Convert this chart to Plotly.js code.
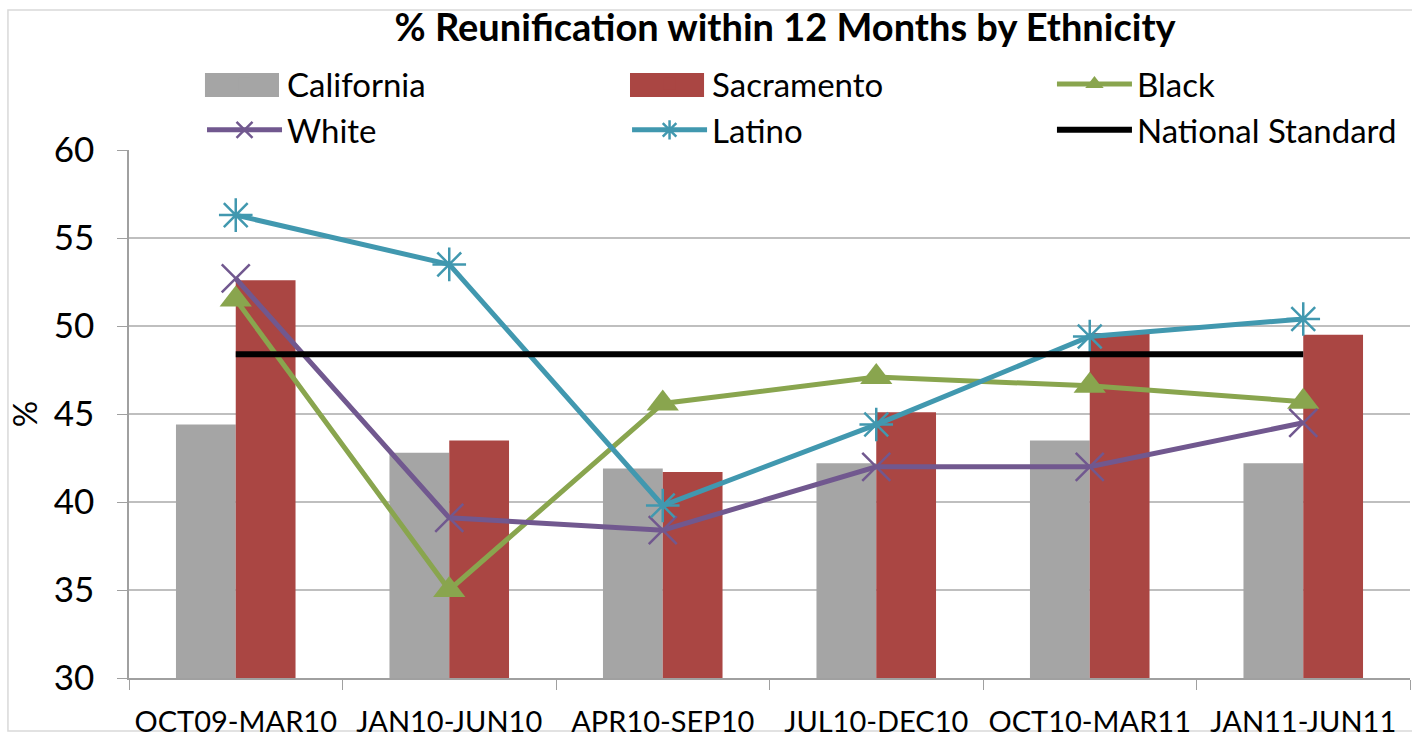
<!DOCTYPE html>
<html>
<head>
<meta charset="utf-8">
<script src="https://cdn.plot.ly/plotly-3.0.1.min.js"></script>
<style>
  html, body { margin: 0; padding: 0; background: #fff; }
  #chart { width: 1412px; height: 733px; }
</style>
</head>
<body>
<div id="chart"></div>
<script>
// Periods along the x axis
const periods = ['OCT09-MAR10', 'JAN10-JUN10', 'APR10-SEP10', 'JUL10-DEC10', 'OCT10-MAR11', 'JAN11-JUN11'];

// % reunified within 12 months
const california = [44.4, 42.8, 41.9, 42.2, 43.5, 42.2];
const sacramento = [52.6, 43.5, 41.7, 45.1, 49.6, 49.5];
const black      = [51.5, 35.0, 45.6, 47.1, 46.6, 45.7];
const white      = [52.7, 39.1, 38.4, 42.0, 42.0, 44.5];
const latino     = [56.3, 53.5, 39.8, 44.4, 49.4, 50.4];
const nationalStandard = [48.4, 48.4, 48.4, 48.4, 48.4, 48.4];

const FONT = 'Lato, "Open Sans", sans-serif';
const GREY = '#A5A5A5';
const RED = '#AA4643';

function lineTrace(name, y, color, symbol, size, legend) {
    return {
        type: 'scatter',
        mode: 'lines+markers',
        name: name,
        legend: legend,
        legendgroup: name,
        x: periods,
        y: y,
        line: { color: color, width: 5 },
        marker: {
            symbol: symbol,
            size: size,
            color: color,
            line: { color: color, width: symbol.endsWith('open') ? 2.5 : 0 }
        },
        cliponaxis: false
    };
}

const traces = [
    { type: 'bar', name: 'California', legend: 'legend', legendgroup: 'California',
      x: periods, y: california, marker: { color: GREY } },
    { type: 'bar', name: 'Sacramento', legend: 'legend2', legendgroup: 'Sacramento',
      x: periods, y: sacramento, marker: { color: RED } },
    lineTrace('Black', black, '#89A54E', 'triangle-up', 28, 'legend3'),
    lineTrace('White', white, '#71588F', 'x-thin-open', 28, 'legend'),
    lineTrace('Latino', latino, '#4198AF', 'asterisk-open', 28, 'legend2'),
    {
        type: 'scatter', mode: 'lines', name: 'National Standard',
        legend: 'legend3', legendgroup: 'National Standard',
        x: periods, y: nationalStandard,
        line: { color: '#000000', width: 6 }
    }
];

function legendBox(x) {
    return {
        orientation: 'v',
        x: x, xanchor: 'left',
        y: 1.178, yanchor: 'top',
        font: { size: 33, family: FONT, color: '#000000' },
        itemwidth: 75,
        tracegroupgap: 0,
        traceorder: 'normal',
        bgcolor: 'rgba(0,0,0,0)'
    };
}

// wide swatches behind the bar legend keys, as in the reference
function swatch(x0, x1, color) {
    return {
        type: 'rect', xref: 'paper', yref: 'paper',
        x0: x0, x1: x1, y0: 1.1004, y1: 1.1458,
        fillcolor: color, line: { width: 0 }, layer: 'above'
    };
}

const layout = {
    width: 1412,
    height: 733,
    paper_bgcolor: '#ffffff',
    plot_bgcolor: '#ffffff',
    font: { family: FONT, color: '#000000' },
    title: {
        text: '<b>% Reunification within 12 Months by Ethnicity</b>',
        font: { size: 38, family: FONT },
        x: 0.556, xanchor: 'center',
        y: 0.962, yanchor: 'middle'
    },
    margin: { l: 129, r: 2, t: 150, b: 55 },
    barmode: 'group',
    bargap: 0.44,
    bargroupgap: 0,
    showlegend: true,
    legend: legendBox(0.057),
    legend2: legendBox(0.3888),
    legend3: legendBox(0.7205),
    shapes: [
        { type: 'rect', xref: 'paper', yref: 'paper',
          x0: -0.0945, x1: 1.02, y0: -0.1004, y1: 1.265,
          line: { color: '#D9D9D9', width: 1.5 }, layer: 'below' },
        swatch(0.0593, 0.1171, GREY),
        swatch(0.3911, 0.4489, RED)
    ],
    xaxis: {
        type: 'category',
        showgrid: false,
        showline: true,
        linecolor: '#A0A0A0',
        linewidth: 1.5,
        ticks: 'outside',
        tickson: 'boundaries',
        ticklen: 10,
        tickcolor: '#A0A0A0',
        tickangle: 0,
        tickfont: { size: 29, family: FONT },
        ticklabelstandoff: 17,
        range: [-0.5, 5.5]
    },
    yaxis: {
        range: [30, 60],
        dtick: 5,
        showgrid: true,
        gridcolor: '#BFBFBF',
        gridwidth: 1.5,
        showline: true,
        linecolor: '#A0A0A0',
        linewidth: 1.5,
        ticks: 'outside',
        ticklen: 10,
        tickcolor: '#A0A0A0',
        tickfont: { size: 35, family: FONT },
        ticklabelstandoff: 16,
        zeroline: false,
        title: { text: '%', font: { size: 33, family: FONT }, standoff: 6 }
    }
};

Plotly.newPlot('chart', traces, layout, { displayModeBar: false, responsive: false });
</script>
</body>
</html>
